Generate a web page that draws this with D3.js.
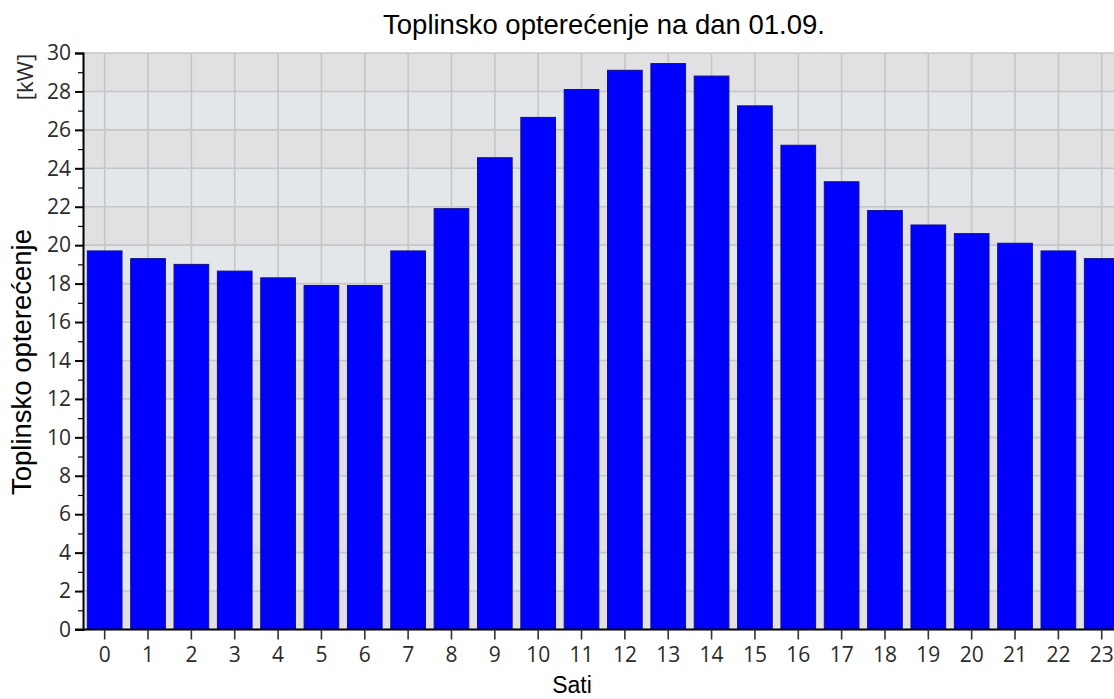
<!DOCTYPE html>
<html>
<head>
<meta charset="utf-8">
<script src="https://cdn.jsdelivr.net/npm/d3@7"></script>
<style>
  html, body { margin: 0; padding: 0; background: #ffffff; }
  svg { display: block; }
</style>
</head>
<body>
<svg id="chart" width="1114" height="699"></svg>
<script>
const hours = ["0","1","2","3","4","5","6","7","8","9","10","11","12","13","14","15","16","17","18","19","20","21","22","23"];
const load = [19.7, 19.3, 19.0, 18.65, 18.3, 17.9, 17.9, 19.7, 21.9, 24.55, 26.65, 28.1, 29.1, 29.45, 28.8, 27.25, 25.2, 23.3, 21.8, 21.05, 20.6, 20.1, 19.7, 19.3];
const yTicks = [0,2,4,6,8,10,12,14,16,18,20,22,24,26,28,30];
const yMinorTicks = [1,3,5,7,9,11,13,15,17,19,21,23,25,27,29];
const titleText = "Toplinsko opterećenje na dan 01.09.";
const yLabelText = "Toplinsko opterećenje";
const unitText = "[kW]";
const xLabelText = "Sati";

(function () {
const svg = d3.select("#chart");
const pLeft = 83, pTop = 53, pBottom = 629.5;
const step = 43.35;
const pRight = pLeft + step * hours.length;

const x = d3.scaleBand().domain(hours).range([pLeft, pRight]).paddingInner(0.2).paddingOuter(0.1);
const y = d3.scaleLinear().domain([0, 30]).range([pBottom, pTop]);

// background bands
const bands = d3.range(0, 30, 2);
svg.append("g").selectAll("rect").data(bands).join("rect")
  .attr("x", pLeft).attr("width", pRight - pLeft)
  .attr("y", d => y(d + 2)).attr("height", d => y(d) - y(d + 2))
  .attr("fill", d => ((d / 2) % 2 === 1) ? "#e4e7ea" : "#e1e1e3");

// gridlines
const grid = svg.append("g").attr("stroke", "#c6c6c6").attr("stroke-width", 1.6);
grid.selectAll("line.h").data(yTicks).join("line").attr("class", "h")
  .attr("x1", pLeft).attr("x2", pRight).attr("y1", d => y(d)).attr("y2", d => y(d));
grid.selectAll("line.v").data(hours).join("line").attr("class", "v")
  .attr("x1", d => x(d) + x.bandwidth() / 2).attr("x2", d => x(d) + x.bandwidth() / 2)
  .attr("y1", pTop).attr("y2", pBottom);

// bars
svg.append("g").selectAll("rect").data(load).join("rect")
  .attr("x", (d, i) => x(hours[i]))
  .attr("width", x.bandwidth())
  .attr("y", d => y(d))
  .attr("height", d => pBottom - y(d))
  .attr("fill", "#0000ff")
  .attr("stroke", "#10108a")
  .attr("stroke-width", 1);

// axes
const tickFont = "'Open Sans', 'Noto Sans', sans-serif";
const yAxis = svg.append("g").attr("transform", `translate(${pLeft},0)`)
  .call(d3.axisLeft(y).tickValues(yTicks).tickSize(8).tickPadding(4).tickFormat(d3.format("d")));
yAxis.select(".domain").attr("stroke", "#000").attr("stroke-width", 2);
yAxis.selectAll(".tick line").attr("stroke", "#000").attr("stroke-width", 2);
yAxis.selectAll("text").attr("font-family", tickFont).attr("font-size", 21).attr("fill", "#2b2b2b");

const yMinor = svg.append("g").attr("transform", `translate(${pLeft},0)`)
  .call(d3.axisLeft(y).tickValues(yMinorTicks).tickSize(5).tickFormat(""));
yMinor.select(".domain").remove();
yMinor.selectAll(".tick line").attr("stroke", "#000").attr("stroke-width", 1.2);

const xAxis = svg.append("g").attr("transform", `translate(0,${pBottom})`)
  .call(d3.axisBottom(x).tickSize(10).tickPadding(8));
xAxis.select(".domain").attr("stroke", "#000").attr("stroke-width", 2).attr("d", `M${pLeft - 8},0H${pRight}`);
xAxis.selectAll(".tick line").attr("stroke", "#333").attr("stroke-width", 1.6);
xAxis.selectAll("text").attr("font-family", tickFont).attr("font-size", 21).attr("fill", "#2b2b2b");

// title and labels
svg.append("text").attr("x", 604).attr("y", 34).attr("text-anchor", "middle")
  .attr("font-family", "'Liberation Sans', Arial, sans-serif").attr("font-size", 27.5).attr("fill", "#000")
  .text(titleText);

svg.append("text").attr("transform", "translate(31,362) rotate(-90)").attr("text-anchor", "middle")
  .attr("font-family", "'Liberation Sans', Arial, sans-serif").attr("font-size", 27.5).attr("fill", "#000")
  .text(yLabelText);

svg.append("text").attr("transform", "translate(33,77) rotate(-90)").attr("text-anchor", "middle")
  .attr("font-family", tickFont).attr("font-size", 22).attr("fill", "#2b2b2b")
  .text(unitText);

svg.append("text").attr("x", 572).attr("y", 693).attr("text-anchor", "middle")
  .attr("font-family", "'Liberation Sans', Arial, sans-serif").attr("font-size", 23).attr("fill", "#000")
  .text(xLabelText);
})();
</script>
</body>
</html>
